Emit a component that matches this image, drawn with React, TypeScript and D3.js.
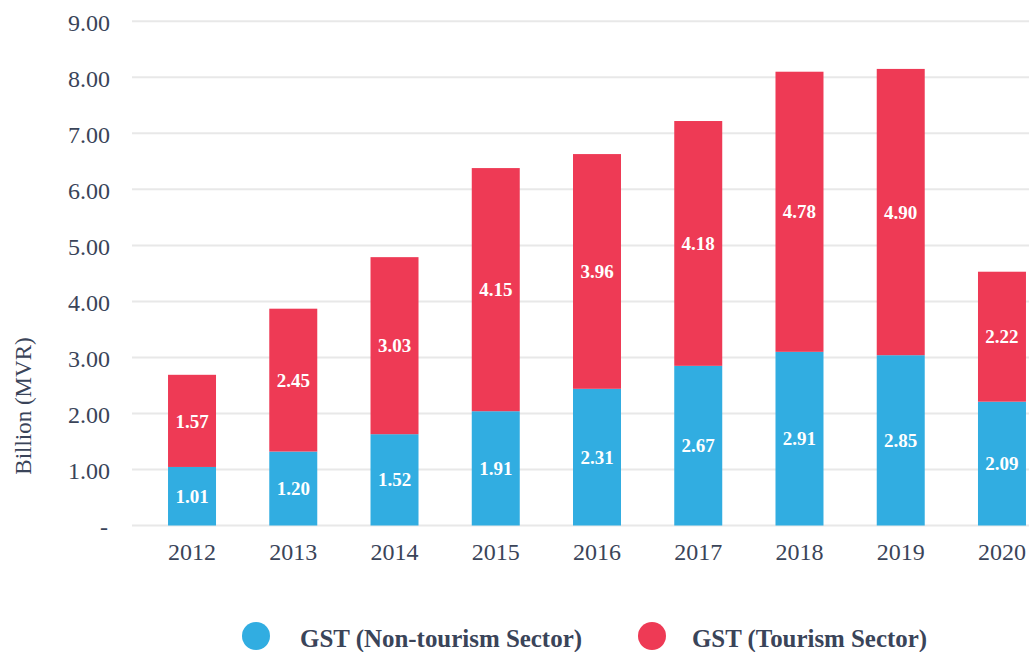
import React from "react";
import * as d3 from "d3";

const years = ["2012", "2013", "2014", "2015", "2016", "2017", "2018", "2019", "2020"];
// Bar segment heights as drawn in the picture (billion MVR)
const nonTourismBar = [1.045, 1.32, 1.63, 2.04, 2.44, 2.85, 3.1, 3.04, 2.21];
const tourismBar = [1.645, 2.55, 3.16, 4.34, 4.19, 4.37, 5.0, 5.11, 2.32];
// Data labels printed on the bars
const nonTourismLabels = ["1.01", "1.20", "1.52", "1.91", "2.31", "2.67", "2.91", "2.85", "2.09"];
const tourismLabels = ["1.57", "2.45", "3.03", "4.15", "3.96", "4.18", "4.78", "4.90", "2.22"];
const yTicks = [0, 1, 2, 3, 4, 5, 6, 7, 8, 9];
const seriesNames = ["GST (Non-tourism Sector)", "GST (Tourism Sector)"];

const BLUE = "#31ADE1";
const RED = "#EE3A55";
const TEXT = "#3A4459";
const FONT = "'Liberation Serif', 'DejaVu Serif', serif";

export default function App() {
  const W = 1029;
  const H = 652;
  const y = d3.scaleLinear().domain([0, 9]).range([525.5, 21.3]);
  const x = d3
    .scaleBand<string>()
    .domain(years)
    .range([141.4, 1052.6])
    .paddingInner(0.526)
    .paddingOuter(0.263);
  const bw = x.bandwidth();

  const legend = [
    { name: seriesNames[0], color: BLUE, cx: 256, tx: 300, len: 282 },
    { name: seriesNames[1], color: RED, cx: 652, tx: 692, len: 235 },
  ];

  return (
    <div style={{ position: "absolute", left: 0, top: 0 }}>
      <svg width={W} height={H} style={{ display: "block", background: "#fff" }}>
        {yTicks.map((t) => (
          <g key={t}>
            <line x1={132} x2={W} y1={y(t)} y2={y(t)} stroke="#E8E8E8" strokeWidth={2} />
            <text
              x={t === 0 ? 108 : 110}
              y={y(t)}
              dy={9.5}
              textAnchor="end"
              fontFamily={FONT}
              fontSize={24}
              fill={TEXT}
            >
              {t === 0 ? "-" : d3.format(".2f")(t)}
            </text>
          </g>
        ))}
        <text
          transform="translate(31,406) rotate(-90)"
          textAnchor="middle"
          fontFamily={FONT}
          fontSize={23}
          fill={TEXT}
        >
          Billion (MVR)
        </text>
        {years.map((yr, i) => {
          const b0 = 0;
          const b1 = nonTourismBar[i];
          const b2 = b1 + tourismBar[i];
          const x0 = x(yr) as number;
          const cx = x0 + bw / 2;
          return (
            <g key={yr}>
              <rect x={x0} width={bw} y={y(b1)} height={y(b0) - y(b1)} fill={BLUE} />
              <rect x={x0} width={bw} y={y(b2)} height={y(b1) - y(b2)} fill={RED} />
              <text
                x={cx}
                y={(y(b0) + y(b1)) / 2}
                dy="0.35em"
                textAnchor="middle"
                fontFamily={FONT}
                fontWeight="bold"
                fontSize={19}
                fill="#fff"
              >
                {nonTourismLabels[i]}
              </text>
              <text
                x={cx}
                y={(y(b1) + y(b2)) / 2}
                dy="0.35em"
                textAnchor="middle"
                fontFamily={FONT}
                fontWeight="bold"
                fontSize={19}
                fill="#fff"
              >
                {tourismLabels[i]}
              </text>
              <text
                x={cx}
                y={560}
                textAnchor="middle"
                fontFamily={FONT}
                fontSize={24}
                fill={TEXT}
              >
                {yr}
              </text>
            </g>
          );
        })}
        {legend.map((l) => (
          <g key={l.name}>
            <circle cx={l.cx} cy={636} r={14} fill={l.color} />
            <text
              x={l.tx}
              y={647}
              fontFamily={FONT}
              fontWeight="bold"
              fontSize={25}
              fill={TEXT}
              textLength={l.len}
              lengthAdjust="spacingAndGlyphs"
            >
              {l.name}
            </text>
          </g>
        ))}
      </svg>
    </div>
  );
}
